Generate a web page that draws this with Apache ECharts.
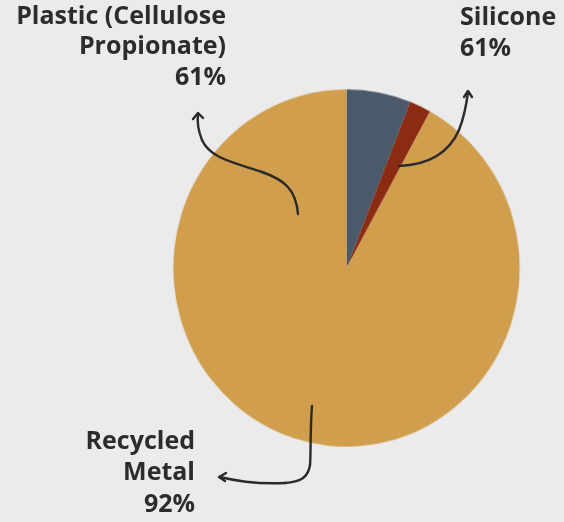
<!DOCTYPE html>
<html>
<head>
<meta charset="utf-8">
<style>
  html, body { margin: 0; padding: 0; background: #ebebeb; }
  #wrap { position: relative; width: 564px; height: 522px; overflow: hidden; }
  #pie, #chart { position: absolute; left: 0; top: 0; width: 564px; height: 522px; }
  #pie { transform-origin: 346.5px 268px; transform: scale(0.984, 1.015); }
</style>
<script src="https://cdn.jsdelivr.net/npm/echarts@6/dist/echarts.min.js"></script>
</head>
<body>
<div id="wrap"><div id="pie"></div><div id="chart"></div></div>
<script>
const categories = ['Plastic (Cellulose Propionate)', 'Silicone', 'Recycled Metal'];
const values = [6, 2, 92];
const labelPercents = ['61%', '61%', '92%'];
const labelLines = [['Plastic (Cellulose', 'Propionate)'], ['Silicone'], ['Recycled', 'Metal']];
const colors = ['#4a5a6b', '#8a2b12', '#d09e4d'];

const FONT = '"Open Sans", sans-serif';
const TXT = '#2c2c2c';

function textBlock(lines, x, yTop, align, lh) {
  return lines.map((t, i) => ({
    type: 'text',
    x: x, y: yTop + i * lh,
    style: {
      text: t, fill: TXT, font: '700 25px ' + FONT,
      align: align, verticalAlign: 'top'
    },
    z: 10
  }));
}

const arrowStyle = { stroke: '#2a2a2a', lineWidth: 2.4, fill: null, lineCap: 'round', lineJoin: 'round' };

function bez(p) {
  return { type: 'bezierCurve', shape: { x1: p[0], y1: p[1], cpx1: p[2], cpy1: p[3], cpx2: p[4], cpy2: p[5], x2: p[6], y2: p[7] }, style: arrowStyle, z: 10 };
}

const graphics = [
  ...textBlock([...labelLines[0], labelPercents[0]], 226, 4, 'right', 30.8),
  ...textBlock([...labelLines[1], labelPercents[1]], 460, 5, 'left', 31),
  ...textBlock([...labelLines[2], labelPercents[2]], 195, 429, 'right', 31.8),
  bez([298,214, 296,190, 285,180, 262,172]),
  bez([262,172, 232,162, 210,158, 202,140]),
  bez([202,140, 198,130, 197,122, 198,114]),
  { type: 'polyline', shape: { points: [[193,119],[198,113],[203,118]] }, style: arrowStyle, z: 10 },
  bez([399,166, 425,165, 448,155, 459,130]),
  bez([459,130, 465,115, 467,100, 468,92]),
  { type: 'polyline', shape: { points: [[464,97],[468,91],[472,97]] }, style: arrowStyle, z: 10 },
  bez([312,406, 310,430, 311,455, 310,465]),
  bez([310,465, 308,478, 300,482, 285,483]),
  bez([285,483, 265,484, 240,482, 220,477]),
  { type: 'polyline', shape: { points: [[226,473],[219,477],[225,481]] }, style: arrowStyle, z: 10 }
];

const pieChart = echarts.init(document.getElementById('pie'));
pieChart.setOption({
  backgroundColor: '#ebebeb',
  animation: false,
  series: [{
    type: 'pie',
    center: [346.5, 268],
    radius: 176,
    startAngle: 90,
    clockwise: true,
    label: { show: false },
    labelLine: { show: false },
    emphasis: { disabled: true },
    data: categories.map((c, i) => ({ name: c, value: values[i], itemStyle: { color: colors[i] } }))
  }]
});

const chart = echarts.init(document.getElementById('chart'));
chart.setOption({
  backgroundColor: 'transparent',
  animation: false,
  graphic: graphics
});
</script>
</body>
</html>
